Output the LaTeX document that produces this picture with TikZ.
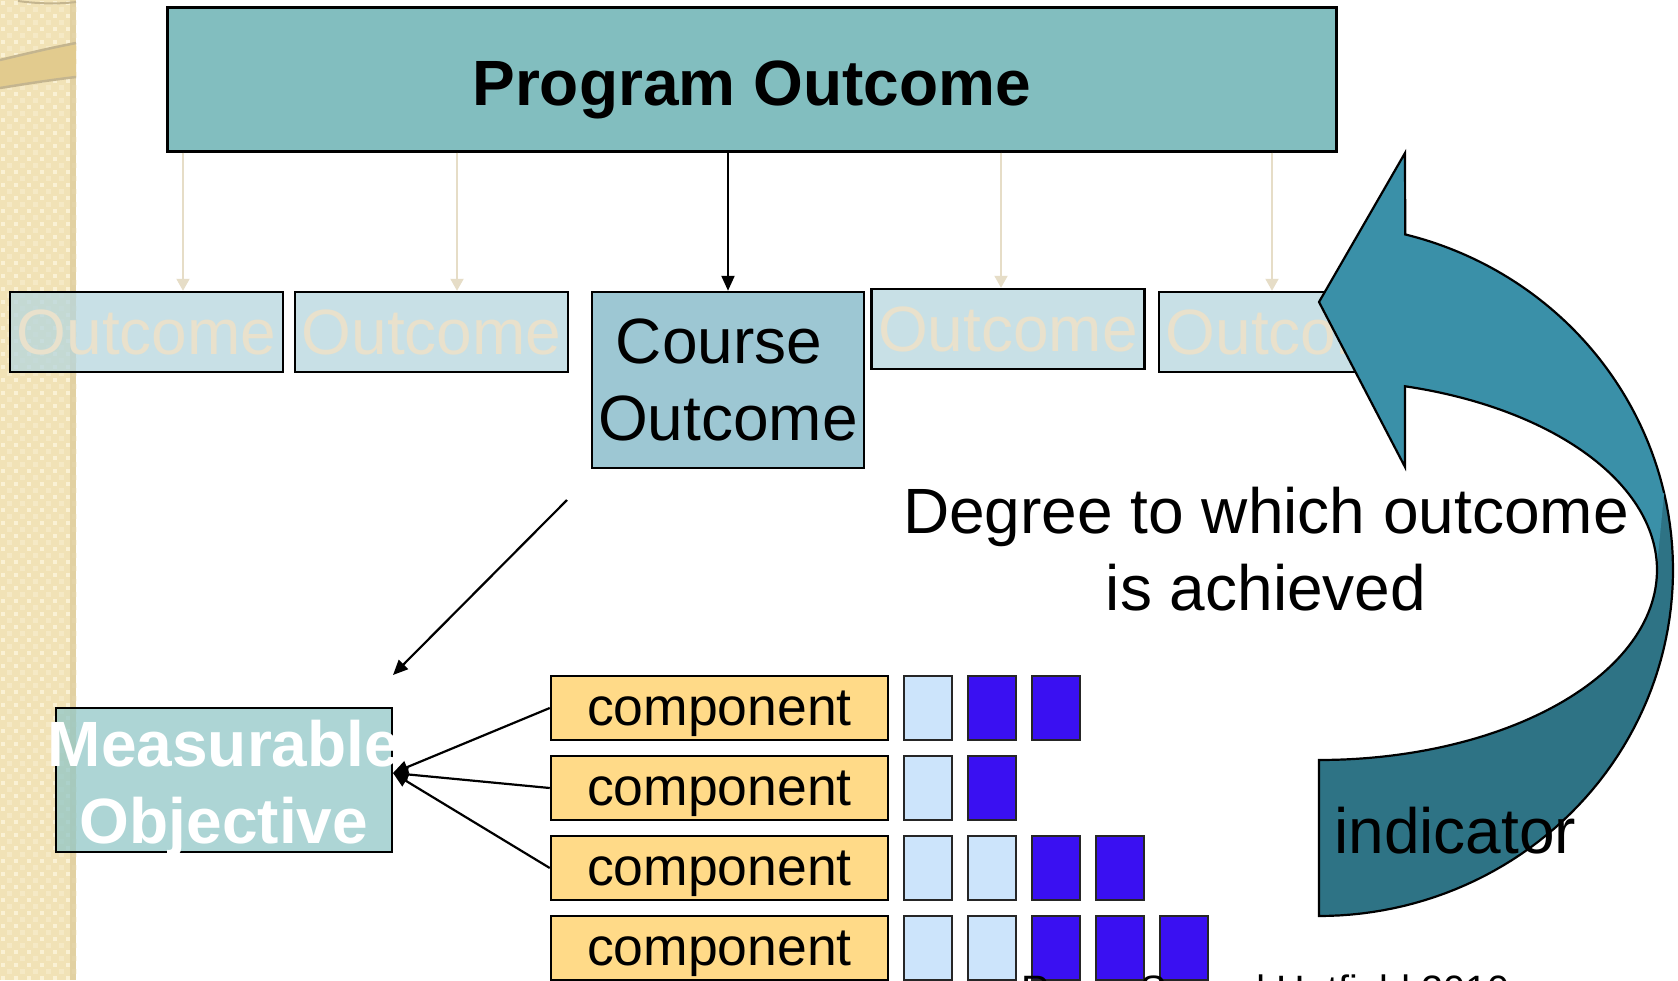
\documentclass[tikz,border=0pt]{standalone}
\usepackage{fontspec}
\setmainfont{Liberation Sans}
\usetikzlibrary{arrows.meta}
\definecolor{stripc}{HTML}{F1E2B6}
\definecolor{stripdot}{HTML}{FAF1D4}
\definecolor{stripdark}{HTML}{D9C796}
\definecolor{ringc}{HTML}{E2CB8E}
\definecolor{ringedge}{HTML}{C4B58F}
\definecolor{topc}{HTML}{82BEBF}
\definecolor{outc}{HTML}{B6D6DE}
\definecolor{otext}{HTML}{E9E1CC}
\definecolor{coursec}{HTML}{9DC7D3}
\definecolor{moc}{HTML}{92C7C7}
\definecolor{compc}{HTML}{FFDA88}
\definecolor{lsqc}{HTML}{CCE4FB}
\definecolor{dsqc}{HTML}{3A10F2}
\definecolor{frontc}{HTML}{3A90A8}
\definecolor{backc}{HTML}{2E7385}
\definecolor{faintc}{HTML}{E6DDC7}
\begin{document}
\begin{tikzpicture}[x=1pt,y=-1pt,
  bigfont/.style={font=\fontsize{64}{77}\selectfont},
  topbox/.style={draw=black, line width=3pt, fill=topc, minimum width=1169pt, minimum height=144pt, inner sep=0pt, text height=52pt, text depth=0pt, font=\bfseries\fontsize{64}{77}\selectfont},
  obox/.style={draw=black, line width=2.5pt, fill=outc, fill opacity=.75, text opacity=1, text=otext, minimum width=273pt, minimum height=80pt, inner sep=0pt, bigfont},
  cbox/.style={draw=black, line width=2.5pt, fill=coursec, minimum width=272pt, minimum height=176pt, inner sep=0pt, align=center, bigfont},
  mobox/.style={draw=black, line width=2.5pt, fill=moc, fill opacity=.75, minimum width=336pt, minimum height=144pt, inner sep=0pt},
  motext/.style={text=white, align=center, inner sep=0pt, font=\bfseries\fontsize{64}{77}\selectfont},
  comp/.style={draw=black, line width=2.5pt, fill=compc, minimum width=337pt, minimum height=64pt, inner sep=0pt, text depth=0pt, font=\fontsize{53.5}{64}\selectfont},
  lsq/.style={draw=black!85, line width=2.5pt, fill=lsqc, minimum width=48pt, minimum height=64pt, inner sep=0pt},
  dsq/.style={draw=black!85, line width=2.5pt, fill=dsqc, minimum width=48pt, minimum height=64pt, inner sep=0pt},
  faint/.style={draw=faintc, line width=2pt, -{Triangle[length=12pt,width=13pt]}},
  blk/.style={draw=black, line width=2.2pt, -{Triangle[length=15pt,width=13pt]}},
  arrowedge/.style={draw=black, line width=2.2pt}
]
\useasboundingbox (0,0) rectangle (1678,980);
\fill[white] (0,0) rectangle (1678,980);

% decorative left strip
\fill[stripc] (0,0) rectangle (76,980);
\foreach \j in {0,...,75} {
  \foreach \i in {0,...,5} {
    \fill[stripdot] ({\i*13+1},{\j*13+1}) rectangle ++(4,4);
    \fill[stripdot, opacity=.5] ({\i*13+7},{\j*13+7}) rectangle ++(5,5);
  }
}
\fill[stripdark, opacity=.6] (70,0) rectangle (76,980);
\fill[ringc] (0,60) .. controls (25,54) and (50,48) .. (76,43) -- (76,77) .. controls (50,80) and (25,84) .. (0,88) -- cycle;
\draw[ringedge, line width=2.5pt] (0,60) .. controls (25,54) and (50,48) .. (76,43);
\draw[ringedge, line width=2.5pt] (0,88) .. controls (25,84) and (50,80) .. (76,77);
\draw[ringedge, line width=2pt] (18,1) .. controls (40,4) and (60,4) .. (76,2);

% boxes
\node[topbox] (po) at (751.5,79) {Program Outcome};
\node[obox] (o1) at (146.5,332) {Outcome};
\node[obox] (o2) at (431.5,332) {Outcome};
\node[cbox] (co) at (728,380) {Course\makebox[0.278em]{}\\Outcome};
\node[obox] (o4) at (1008,329) {Outcome};
\node[obox] (o5) at (1295.5,332) {Outcome};

\coordinate (f1) at (183,0);
\coordinate (f2) at (457,0);
\coordinate (f4) at (1001,0);
\coordinate (f5) at (1272,0);
\draw[faint] (po.south -| f1) -- (o1.north -| f1);
\draw[faint] (po.south -| f2) -- (o2.north -| f2);
\draw[faint] (po.south -| f4) -- (o4.north -| f4);
\draw[faint] (po.south -| f5) -- (o5.north -| f5);
\draw[blk] (po.south -| co.north) -- (co.north);

% measurable objective
\node[mobox] (mo) at (224,780) {};
\node[motext, anchor=north] (mot) at (224,720) {Measurable\\Objective};

\coordinate (d1) at (567,500);
\coordinate (d2) at (393,675);
\draw[blk] (d1) -- (d2);

% components
\node[comp] (c1) at (719.5,708) {component};
\node[comp] (c2) at (719.5,788) {component};
\node[comp] (c3) at (719.5,868) {component};
\node[comp] (c4) at (719.5,948) {component};

\coordinate (moin) at (393,773);
\draw[blk] (c1.west) -- (moin);
\draw[blk] (c2.west) -- (moin);
\draw[blk] (c3.west) -- (moin);

\node[lsq] (s11) at (928,708) {};
\node[dsq] (s12) at (992,708) {};
\node[dsq] (s13) at (1056,708) {};
\node[lsq] (s21) at (928,788) {};
\node[dsq] (s22) at (992,788) {};
\node[lsq] (s31) at (928,868) {};
\node[lsq] (s32) at (992,868) {};
\node[dsq] (s33) at (1056,868) {};
\node[dsq] (s34) at (1120,868) {};
\node[lsq] (s41) at (928,948) {};
\node[lsq] (s42) at (992,948) {};
\node[dsq] (s43) at (1056,948) {};
\node[dsq] (s44) at (1120,948) {};
\node[dsq] (s45) at (1184,948) {};

% curved arrow: back band
\fill[backc] plot[domain=-20:90, samples=60] ({1319+354*cos(\x)},{570+346*sin(\x)})
  -- plot[domain=90:-20, samples=60] ({1319+338*cos(\x)},{570+190*sin(\x)}) -- cycle;
\draw[arrowedge] plot[domain=-12.86:90, samples=60] ({1319+354*cos(\x)},{570+346*sin(\x)})
  -- plot[domain=90:-0.9, samples=60] ({1319+338*cos(\x)},{570+190*sin(\x)});
% front band with head
\fill[frontc] (1405,153) -- (1319,302) -- (1405,467)
  -- plot[domain=-75.26:-0.9, samples=60] ({1319+338*cos(\x)},{570+190*sin(\x)})
  -- plot[domain=-12.86:-75.9, samples=60] ({1319+354*cos(\x)},{570+346*sin(\x)}) -- cycle;
\draw[arrowedge] plot[domain=-12.86:-75.9, samples=60] ({1319+354*cos(\x)},{570+346*sin(\x)})
  -- (1405,153) -- (1319,302) -- (1405,467)
  -- plot[domain=-75.26:-0.9, samples=60] ({1319+338*cos(\x)},{570+190*sin(\x)});

% texts
\node[anchor=north, align=center, inner sep=0pt, bigfont] (deg) at (1266,487) {Degree to which outcome\\is achieved};
\node[anchor=base west, inner sep=0pt, bigfont] (ind) at (1334,853) {indicator};
\node[anchor=north west, inner sep=0pt, font=\fontsize{39.6}{46}\selectfont] (cite) at (1021,975) {Roger Secord Hatfield 2010};
\end{tikzpicture}
\end{document}
